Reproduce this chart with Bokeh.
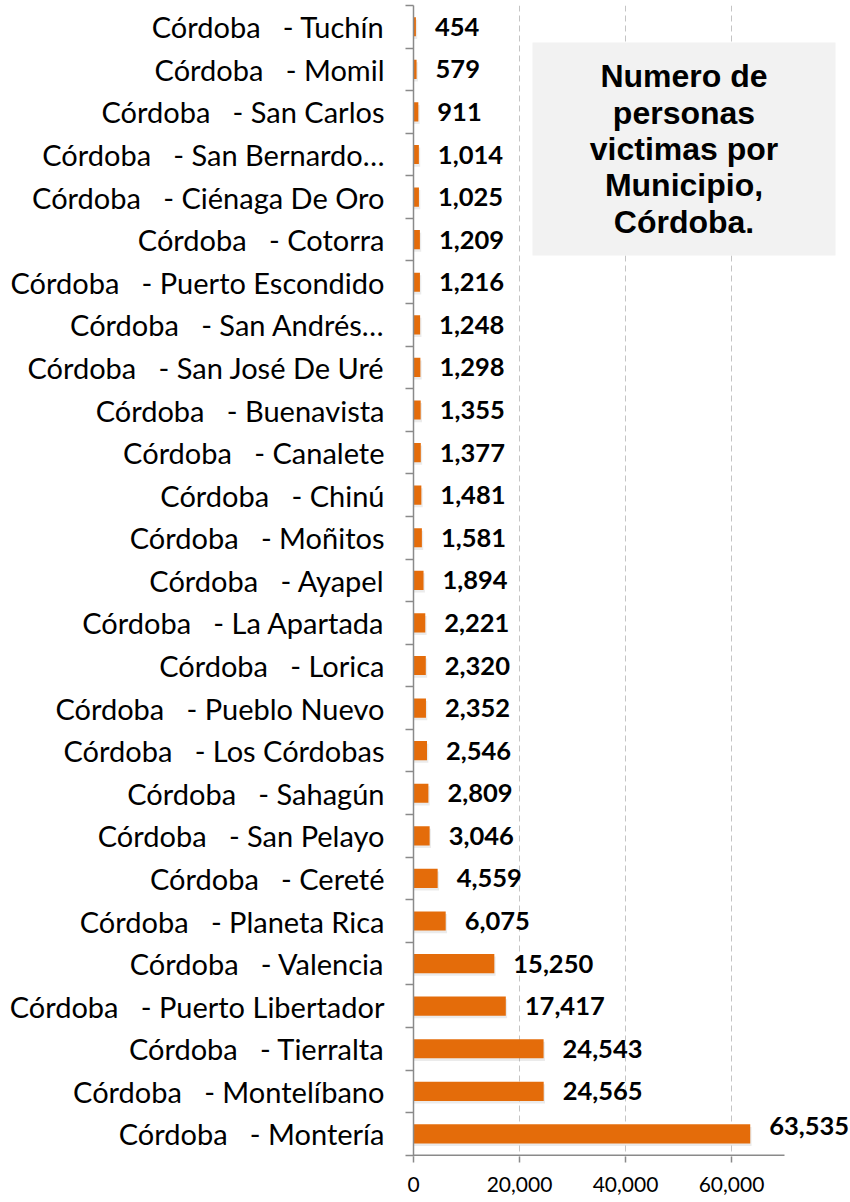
from bokeh.plotting import figure
from bokeh.models import (ColumnDataSource, FixedTicker, NumeralTickFormatter,
                          BoxAnnotation)
from bokeh.core.properties import value
from bokeh.embed import file_html
from bokeh.resources import INLINE

SP = "\u00a0\u00a0 "
lugares = [
    "Tuchín", "Momil", "San Carlos", "San Bernardo…", "Ciénaga De Oro", "Cotorra",
    "Puerto Escondido", "San Andrés…", "San José De Uré", "Buenavista", "Canalete",
    "Chinú", "Moñitos", "Ayapel", "La Apartada", "Lorica", "Pueblo Nuevo",
    "Los Córdobas", "Sahagún", "San Pelayo", "Cereté", "Planeta Rica", "Valencia",
    "Puerto Libertador", "Tierralta", "Montelíbano", "Montería",
]
municipios = ["Córdoba" + SP + "- " + m for m in lugares]
victimas = [454, 579, 911, 1014, 1025, 1209, 1216, 1248, 1298, 1355, 1377, 1481,
            1581, 1894, 2221, 2320, 2352, 2546, 2809, 3046, 4559, 6075, 15250,
            17417, 24543, 24565, 63535]
x_ticks = [0, 20000, 40000, 60000]
AXIS_MAX = 70000
titulo_lineas = ["Numero de", "personas", "victimas por", "Municipio,", "Córdoba."]

# layout (pixel geometry of the plot area)
X_END = 82453          # frame spans to the right edge of the picture
BOX_L, BOX_R = 22453, 79623
BOX_T, BOX_B = 0.87, 5.87
LINE_STEP = 0.852

n = len(municipios)
pos = [i + 0.5 for i in range(n)]
vmax = max(victimas)
src = ColumnDataSource(dict(
    y=pos,
    v=victimas,
    lab=[f"{v:,}" for v in victimas],
    yoff=[-8 if v == vmax else 0 for v in victimas],
    ys=[p_ + 0.06 for p_ in pos],
    vs=[v + 250 for v in victimas],
))

p = figure(width=850, height=1202, x_range=(0, X_END), y_range=(n + 0.03, 0),
           output_backend="svg", toolbar_location=None,
           min_border_left=413, min_border_right=0, min_border_top=5,
           min_border_bottom=46)
p.outline_line_color = None
p.background_fill_color = "white"

# x grid
p.xgrid.ticker = FixedTicker(ticks=x_ticks)
p.xgrid.grid_line_color = "#c4c4c4"
p.xgrid.grid_line_dash = "6 4"
p.xgrid.grid_line_width = 1
p.ygrid.grid_line_color = None

axis_col = "#8a8a8a"

# shadow + bars
p.hbar(y="ys", right="vs", left=0, height=0.45, source=src,
       fill_color="#9a9a9a", fill_alpha=0.2, line_color=None)
p.hbar(y="y", right="v", left=0, height=0.45, source=src,
       fill_color="#E46C0A", line_color=None)

# bottom axis line (only up to the axis maximum)
p.segment(x0=[0], y0=[n], x1=[AXIS_MAX], y1=[n], line_color=axis_col, line_width=1.5)

p.text(x="v", y="y", text="lab", source=src, x_offset=19, y_offset="yoff",
       text_align="left", text_baseline="middle",
       text_font=value("Lato"), text_font_style="bold",
       text_font_size="25.5px", text_color="black")

# title box
box = BoxAnnotation(left=BOX_L, right=BOX_R, top=BOX_T, bottom=BOX_B,
                    fill_color="#F2F2F2", fill_alpha=1.0, line_color=None,
                    level="underlay")
p.add_layout(box)
mid_y = (BOX_T + BOX_B) / 2
k = len(titulo_lineas)
tsrc = ColumnDataSource(dict(
    x=[(BOX_L + BOX_R) / 2] * k,
    y=[mid_y + (i - (k - 1) / 2) * LINE_STEP for i in range(k)],
    t=titulo_lineas,
))
p.text(x="x", y="y", text="t", source=tsrc, text_align="center",
       text_baseline="middle", text_font=value("Liberation Sans"),
       text_font_style="bold", text_font_size="32px", text_color="black")

# x axis
xa = p.xaxis[0]
xa.ticker = FixedTicker(ticks=x_ticks, minor_ticks=[])
xa.formatter = NumeralTickFormatter(format="0,0")
xa.axis_line_color = None
xa.major_tick_line_color = axis_col
xa.major_tick_line_width = 1.5
xa.major_tick_out = 6
xa.major_tick_in = 0
xa.minor_tick_line_color = None
xa.major_label_standoff = 14
xa.major_label_text_font = "Lato"
xa.major_label_text_font_size = "21px"
xa.major_label_text_color = "black"

# y axis
ya = p.yaxis[0]
ya.ticker = FixedTicker(ticks=pos, minor_ticks=list(range(n + 1)))
ya.major_label_overrides = {pv: name for pv, name in zip(pos, municipios)}
ya.axis_line_color = axis_col
ya.axis_line_width = 1.5
ya.major_tick_line_color = None
ya.major_tick_out = 0
ya.major_tick_in = 0
ya.minor_tick_line_color = axis_col
ya.minor_tick_line_width = 1.5
ya.minor_tick_out = 8
ya.minor_tick_in = 0
ya.major_label_standoff = 21
ya.major_label_text_font = "Lato"
ya.major_label_text_font_size = "29px"
ya.major_label_text_color = "black"

open("out.html", "w").write(file_html(p, INLINE))
